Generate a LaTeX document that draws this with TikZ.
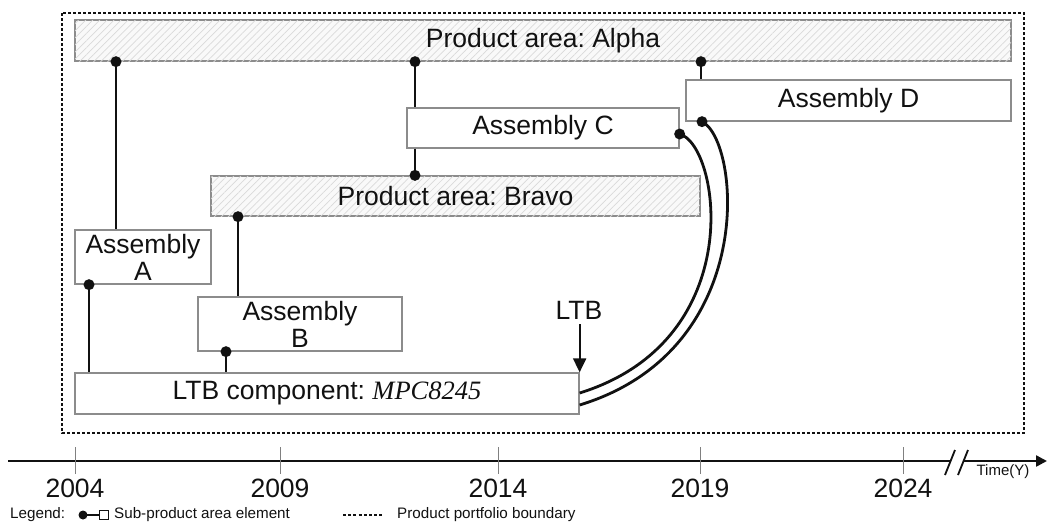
\documentclass[tikz,border=0pt]{standalone}
\usepackage{fontspec}
\setmainfont{Liberation Sans}
\newfontfamily\timesf{Liberation Serif}
\usetikzlibrary{patterns.meta,arrows.meta,calc}
\definecolor{boxgray}{HTML}{8C8C8C}
\definecolor{hatchgray}{HTML}{DADADA}
\definecolor{ink}{HTML}{111111}
\tikzset{
  plainbox/.style={draw=boxgray, line width=1.3pt, fill=white, rectangle, inner sep=0pt, align=center,
     font=\fontsize{26.5}{27}\selectfont, text=ink},
  areabox/.style={plainbox, fill=gray!5, postaction={pattern={Lines[angle=45,distance=5pt,line width=0.7pt]}, pattern color=hatchgray}},
  link/.style={draw=ink, line width=2.8pt},
  dotmark/.style={fill=ink},
  yearlabel/.style={font=\fontsize{26.5}{27}\selectfont, text=ink},
  legendtext/.style={font=\fontsize{15.2}{16}\selectfont, text=ink, anchor=west, inner sep=0pt},
}
\frenchspacing
\begin{document}
\begin{tikzpicture}[x=1pt,y=-1pt]
\useasboundingbox (0,0) rectangle (1047,523);
% portfolio boundary
\draw[ink, line width=2.2pt, dash pattern=on 3pt off 2pt] (62,13) rectangle (1024,433);
% boxes
\node[areabox, minimum width=936pt, minimum height=41pt] (alpha) at (543,40.5) {Product area: Alpha};
\node[areabox, minimum width=489pt, minimum height=40pt] (bravo) at (455.5,196) {Product area: Bravo};
\node[plainbox, minimum width=272pt, minimum height=40pt] (C) at (543,128) {Assembly C};
\node[plainbox, minimum width=325pt, minimum height=41pt] (D) at (848.5,100.5) {Assembly D};
\node[plainbox, minimum width=136pt, minimum height=54pt] (A) at (143,257) {Assembly\\A};
\node[plainbox, minimum width=204pt, minimum height=54pt] (B) at (300,324) {Assembly\\B};
\node[plainbox, minimum width=504pt, minimum height=41pt] (ltb) at (327,393.5) {LTB component: {\timesf\itshape MPC8245}};
% straight connectors
\draw[link] (alpha.south -| 116,0) -- (A.north -| 116,0);
\fill[dotmark] (alpha.south -| 116,0) circle (5.5pt);
\draw[link] (alpha.south -| 415,0) -- (C.north -| 415,0);
\fill[dotmark] (alpha.south -| 415,0) circle (5.5pt);
\draw[link] (C.south -| 415,0) -- (bravo.north -| 415,0);
\fill[dotmark] (bravo.north -| 415,0) circle (5.5pt);
\draw[link] (bravo.south -| 238,0) -- (B.north -| 238,0);
\fill[dotmark] (bravo.south -| 238,0) circle (5.5pt);
\draw[link] (A.south -| 89,0) -- (ltb.north -| 89,0);
\fill[dotmark] (A.south -| 89,0) circle (5.5pt);
\draw[link] (B.south -| 226,0) -- (ltb.north -| 226,0);
\fill[dotmark] (B.south -| 226,0) circle (5.5pt);
\draw[link] (alpha.south -| 701,0) -- (D.north -| 701,0);
\fill[dotmark] (alpha.south -| 701,0) circle (5.5pt);
% curved connectors
\draw[link] (C.east |- 0,134) .. controls (720,145) and (750,340) .. (ltb.east |- 0,393);
\fill[dotmark] (C.east |- 0,134) circle (5.5pt);
\draw[link] (D.south -| 702,0) .. controls (740,140) and (760,350) .. (ltb.east |- 0,405);
\fill[dotmark] (D.south -| 702,0) circle (5.5pt);
% LTB marker
\node[font=\fontsize{26.5}{27}\selectfont, text=ink, inner sep=0pt] (ltbl) at (579,310) {LTB};
\draw[ink, line width=2pt, -{Triangle[length=14pt,width=13pt]}] (ltbl.south -| ltb.east) ++(0,5) -- (ltb.north east);
% time axis
\coordinate (ax0) at (8,461);
\coordinate (axb1) at (951,461);
\coordinate (axb2) at (964,461);
\coordinate (ax1) at (1047,461);
\draw[ink, line width=2.4pt] (ax0) -- (axb1);
\draw[ink, line width=2.4pt, -{Triangle[length=11pt,width=11pt]}] (axb2) -- (ax1);
\draw[ink, line width=1.8pt] (945,475) -- (955,450);
\draw[ink, line width=1.8pt] (958,475) -- (968,450);
\foreach \x/\yr in {75/2004, 280/2009, 498/2014, 700/2019, 903/2024}{
  \draw[gray, line width=0.9pt] (\x,447) -- (\x,474);
  \node[yearlabel] (y\yr) at (\x,488) {\yr};
}
\node[font=\fontsize{15}{16}\selectfont, text=ink] (timelab) at (1003,472) {Time(Y)};
% legend
\node[legendtext] (leg) at (10,515) {Legend:};
\coordinate (lgdot) at (83,515);
\node[draw=ink, line width=0.9pt, minimum size=9pt, inner sep=0pt] (lgsq) at (104,515) {};
\draw[ink, line width=1.8pt] (lgdot) -- (lgsq.west);
\fill[ink] (lgdot) circle (4.5pt);
\node[legendtext] (legsub) at (114,515) {Sub-product area element};
\draw[ink, line width=2pt, dash pattern=on 3pt off 2.2pt] (343,515) -- (383,515);
\node[legendtext] (legbound) at (397,515) {Product portfolio boundary};
\end{tikzpicture}
\end{document}
